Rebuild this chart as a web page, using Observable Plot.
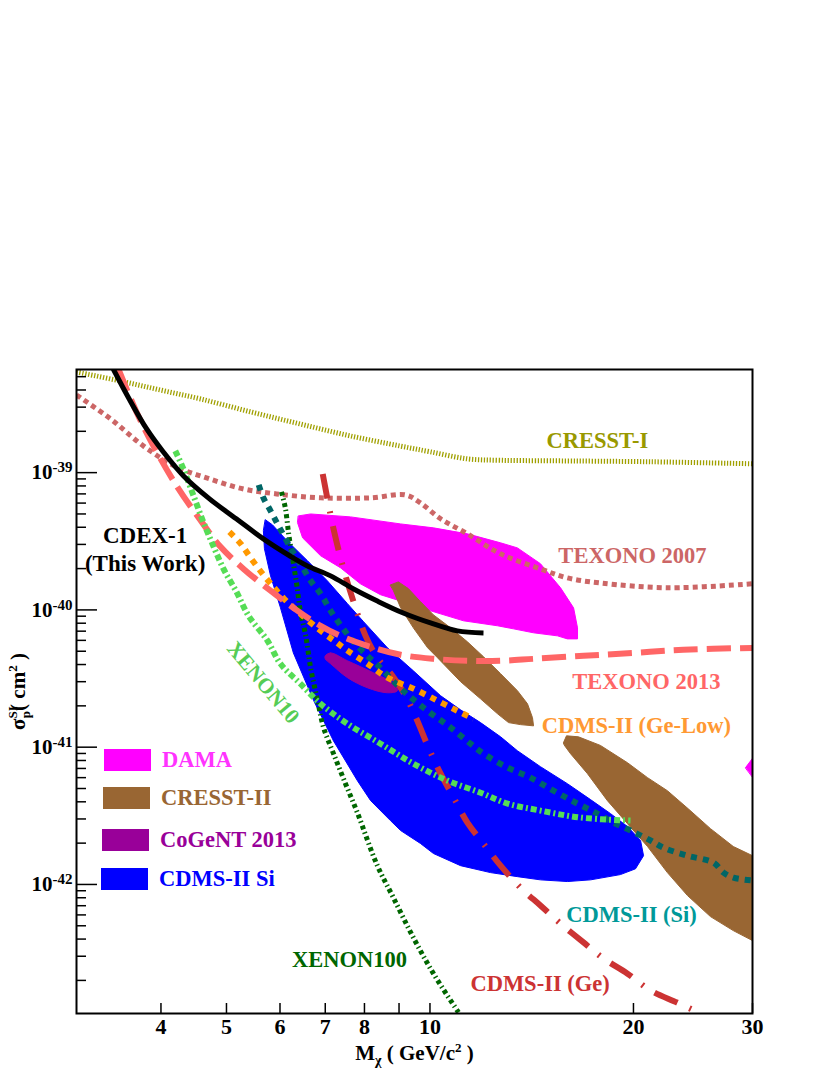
<!DOCTYPE html>
<html><head><meta charset="utf-8">
<script src="https://cdn.jsdelivr.net/npm/d3@7"></script>
<script src="https://cdn.jsdelivr.net/npm/@observablehq/plot@0.6"></script>
<style>
body{margin:0;background:#fff;}
#wrap{position:relative;width:830px;height:1075px;font-family:'Liberation Serif','Times New Roman',serif;font-weight:bold;}
.lg{position:absolute;display:flex;align-items:center;font-size:22.5px;line-height:22px;white-space:nowrap;}
.sw{width:47px;height:22px;margin-right:11px;}
</style></head><body><div id="wrap"></div>
<script>
// ---- data: [mass (GeV/c^2), sigma_SI (cm^2)] ----
const cresst1 = [[3.0,5.41e-39],[3.49,4.64e-39],[3.99,4.00e-39],[4.58,3.44e-39],[5.43,2.77e-39],[6.43,2.26e-39],[7.63,1.85e-39],[9.05,1.56e-39],[10.0,1.42e-39],[11.36,1.26e-39],[12.72,1.23e-39],[15.07,1.22e-39],[21.2,1.20e-39],[30,1.16e-39]];
const texono2007 = [[3.0,3.68e-39],[3.37,2.46e-39],[3.77,1.56e-39],[4.22,1.10e-39],[4.72,9.0e-40],[5.30,7.6e-40],[5.93,7.0e-40],[6.89,6.55e-40],[8.17,6.55e-40],[9.20,6.88e-40],[9.68,6.02e-40],[10.37,4.61e-40],[11.36,3.58e-40],[12.72,2.56e-40],[14.57,1.99e-40],[15.97,1.71e-40],[17.87,1.57e-40],[22.5,1.45e-40],[30,1.55e-40]];
const texono2013 = [[3.46,5.69e-39],[3.68,2.77e-39],[3.90,1.56e-39],[4.22,8.0e-40],[4.56,4.61e-40],[4.90,2.88e-40],[5.30,1.99e-40],[5.81,1.38e-40],[6.28,1.035e-40],[6.89,7.65e-41],[7.37,6.47e-41],[8.08,5.47e-41],[9.05,4.71e-41],[10.12,4.40e-41],[11.36,4.26e-41],[12.72,4.26e-41],[14.23,4.40e-41],[16.87,4.63e-41],[20.0,4.86e-41],[23.7,5.12e-41],[30,5.29e-41]];
const cdex1 = [[3.40,5.69e-39],[3.59,3.44e-39],[3.81,2.08e-39],[4.03,1.42e-39],[4.32,9.46e-40],[4.72,6.44e-40],[5.17,4.61e-40],[5.67,3.29e-40],[6.20,2.48e-40],[6.59,2.09e-40],[7.13,1.77e-40],[7.71,1.42e-40],[8.36,1.16e-40],[9.13,9.5e-41],[10.02,8.04e-41],[10.98,7.03e-41],[12.0,6.80e-41]];
const xenon10 = [[4.20,1.44e-39],[4.32,1.06e-39],[4.47,6.77e-40],[4.62,4.38e-40],[4.78,2.93e-40],[4.95,1.99e-40],[5.17,1.36e-40],[5.39,9.06e-41],[5.75,5.96e-41],[6.01,4.05e-41],[6.43,2.90e-41],[6.89,2.07e-41],[7.55,1.48e-41],[8.45,1.06e-41],[9.45,7.58e-42],[10.62,5.70e-42],[11.88,4.66e-42],[13.03,3.88e-42],[14.57,3.45e-42],[16.70,3.07e-42],[19.8,2.92e-42]];
const xenon100 = [[6.03,7.24e-40],[6.11,5.53e-40],[6.18,3.58e-40],[6.26,2.39e-40],[6.35,1.55e-40],[6.43,9.85e-41],[6.55,6.47e-41],[6.66,3.78e-41],[6.82,2.18e-41],[6.96,1.39e-41],[7.20,8.97e-42],[7.50,5.42e-42],[7.81,3.33e-42],[8.36,1.37e-42],[8.83,8.0e-43],[9.45,4.10e-43],[10.12,2.24e-43],[11.02,1.17e-43]];
const cdmsSiLimit = [[5.58,8.14e-40],[5.67,6.55e-40],[5.81,5.27e-40],[5.95,4.23e-40],[6.22,2.83e-40],[6.43,2.17e-40],[6.66,1.63e-40],[6.89,1.31e-40],[7.13,9.85e-41],[7.37,7.78e-41],[7.71,5.85e-41],[8.08,4.63e-41],[8.36,3.98e-41],[9.13,2.57e-41],[9.92,1.84e-41],[10.73,1.39e-41],[11.48,1.06e-41],[12.0,8.97e-42],[13.03,7.10e-42],[14.08,6.00e-42],[15.23,4.82e-42],[16.53,3.88e-42],[17.69,3.28e-42],[18.68,2.82e-42],[19.8,2.47e-42],[21.2,2.09e-42],[22.16,1.85e-42],[24.04,1.62e-42],[26.27,1.44e-42],[27.18,1.22e-42],[28.12,1.12e-42],[30,1.07e-42]];
const cdmsGeLow = [[5.05,3.70e-40],[5.25,3.03e-40],[5.43,2.39e-40],[5.67,1.80e-40],[5.87,1.47e-40],[6.07,1.22e-40],[6.43,9.37e-41],[6.89,7.05e-41],[7.25,5.86e-41],[7.55,5.05e-41],[8.08,4.06e-41],[8.65,3.21e-41],[9.45,2.67e-41],[10.26,2.18e-41],[10.98,1.84e-41],[11.6,1.61e-41]];
const cdmsGe = [[6.94,9.78e-40],[7.20,3.89e-40],[7.45,1.99e-40],[7.76,1.035e-40],[8.03,6.47e-41],[8.36,4.48e-41],[8.80,3.31e-41],[9.20,2.37e-41],[9.55,1.61e-41],[9.95,9.91e-42],[10.37,6.41e-42],[10.84,4.29e-42],[11.36,2.82e-42],[12.0,1.98e-42],[12.72,1.37e-42],[13.61,9.48e-43],[14.57,7.02e-43],[15.6,5.19e-43],[16.87,3.78e-43],[18.06,2.89e-43],[19.6,2.24e-43],[21.2,1.69e-43],[23.2,1.38e-43],[25.13,1.15e-43]];
// allowed regions (closed contours)
const damaRegion = [[6.39,4.84e-40],[6.66,5.0e-40],[7.63,4.76e-40],[9.05,4.23e-40],[10.12,3.96e-40],[11.36,3.58e-40],[12.72,3.08e-40],[13.47,2.83e-40],[14.57,2.17e-40],[15.6,1.45e-40],[16.31,1.035e-40],[16.53,7.40e-41],[16.53,6.15e-41],[15.97,6.15e-41],[15.44,6.47e-41],[14.23,6.81e-41],[13.29,7.28e-41],[12.59,7.66e-41],[11.21,8.33e-41],[10.02,9.85e-41],[9.05,1.16e-40],[8.45,1.29e-40],[7.89,1.55e-40],[7.37,2.03e-40],[6.89,2.48e-40],[6.48,3.35e-40],[6.37,4.31e-40]];
const damaRegion2 = [[29.3,7.10e-42],[31,1.03e-41],[31,4.9e-42]];
const cresst2RegionA = [[8.74,1.52e-40],[8.98,1.60e-40],[9.29,1.43e-40],[9.68,1.15e-40],[10.12,9.2e-41],[10.73,7.40e-41],[11.36,5.86e-41],[12.0,4.56e-41],[12.72,3.43e-41],[13.47,2.58e-41],[13.94,2.07e-41],[14.18,1.64e-41],[14.23,1.43e-41],[13.61,1.46e-41],[13.07,1.51e-41],[12.59,1.75e-41],[11.88,2.25e-41],[11.10,3.0e-41],[10.26,4.48e-41],[9.92,5.3e-41],[9.45,7.40e-41],[9.05,1.035e-40],[8.83,1.38e-40]];
const cresst2RegionB = [[15.76,1.08e-41],[15.92,1.21e-41],[16.58,1.19e-41],[17.87,1.03e-41],[19.6,7.7e-42],[20.98,6.0e-42],[22.45,4.82e-42],[24.1,3.56e-42],[26.0,2.55e-42],[28.1,1.89e-42],[30,1.62e-42],[30,3.90e-43],[28.1,4.61e-43],[26.0,5.83e-43],[24.04,8.3e-43],[22.45,1.22e-42],[20.98,1.89e-42],[19.6,2.77e-42],[18.3,4.08e-42],[17.1,6.41e-42],[16.14,8.97e-42],[15.81,1.03e-41]];
const cdmsSiRegion = [[5.71,4.53e-40],[5.85,4.16e-40],[6.15,3.18e-40],[6.59,2.28e-40],[7.05,1.63e-40],[7.55,1.11e-40],[7.98,8.18e-41],[8.65,5.30e-41],[9.45,3.60e-41],[10.37,2.37e-41],[11.10,1.87e-41],[11.88,1.51e-41],[12.72,1.19e-41],[13.47,9.42e-42],[14.57,7.21e-42],[15.97,5.42e-42],[17.28,4.15e-42],[18.5,3.28e-42],[19.6,2.64e-42],[20.49,2.09e-42],[20.7,1.62e-42],[20.14,1.30e-42],[19.13,1.18e-42],[17.28,1.08e-42],[15.97,1.05e-42],[14.57,1.08e-42],[13.47,1.14e-42],[12.29,1.22e-42],[11.10,1.37e-42],[10.12,1.68e-42],[9.68,1.99e-42],[9.05,2.47e-42],[8.74,2.92e-42],[8.17,4.08e-42],[7.81,5.70e-42],[7.20,1.11e-41],[6.73,2.18e-41],[6.28,4.86e-41],[6.01,1.035e-40],[5.81,1.77e-40],[5.69,2.79e-40],[5.67,3.76e-40]];
const cogentRegion = [[7.00,4.63e-41],[7.13,4.86e-41],[7.55,4.26e-41],[8.25,3.48e-41],[8.83,2.90e-41],[8.95,2.58e-41],[8.65,2.49e-41],[8.08,2.71e-41],[7.55,3.21e-41],[7.13,4.05e-41],[7.0,4.40e-41]];
// axis ticks
const xTicks = [4,5,6,7,8,9,10,20,30];
const yMajor = [1e-39,1e-40,1e-41,1e-42];
const yDecades = [-43,-42,-41,-40,-39];
const yMinorMult = [2,3,4,5,6,7,8,9];
// curve labels (anchor in data units)
const labelText = ["CRESST-I","TEXONO 2007","TEXONO 2013","CDMS-II (Ge-Low)","CDMS-II (Si)","CDMS-II (Ge)","XENON100","XENON10","CDEX-1\n(This Work)"];
const labelMass = [17.69,19.93,20.9,20.2,19.87,14.55,7.60,5.69,3.79];
const labelSigma = [1.76e-39,2.56e-40,3.05e-41,1.48e-41,6.14e-43,1.93e-43,2.89e-43,3.0e-41,2.83e-40];
// legend
const legendNames = ["DAMA","CRESST-II","CoGeNT 2013","CDMS-II Si"];

// ---- styles ----
const labelColor = ["#999900","#cc6666","#ff6666","#ff9933","#009999","#cc3333","#006600","#55cc55","#000000"];
const labelRotate = [0,0,0,0,0,0,0,50,0];
const legendFill = ["#ff00ff","#996633","#990099","#0000ff"];
const legendText = ["#ff33ff","#996633","#990099","#0000ff"];
const legendPos = [[104,749],[103,787],[102,829],[101,868]];

const yDomain = [1.148e-43, 5.64e-39];
const yMinor = yDecades.flatMap(e => yMinorMult.map(m => m * Math.pow(10, e))).filter(v => v > yDomain[0] && v < yDomain[1]);

const X = d => d[0], Y = d => d[1];
const region = (data, color, curve = "linear-closed") =>
  Plot.line(data, {x: X, y: Y, fill: color, stroke: color, strokeWidth: 1, curve, clip: true});
const limit = (data, color, width, dash) =>
  Plot.line(data, {x: X, y: Y, stroke: color, strokeWidth: width, strokeDasharray: dash, strokeLinecap: "butt", curve: "catmull-rom", clip: true});

const FW = 830 - 76 - 78, FH = 1075 - 369 - 62;

const labelMarks = labelText.map((t, i) => Plot.text([i], {
  x: () => labelMass[i], y: () => labelSigma[i], text: () => t,
  fill: labelColor[i], rotate: labelRotate[i], fontSize: i === 8 ? 23 : (i === 7 ? 21.5 : 22.5),
  lineHeight: 1.22, textAnchor: "middle"
}));

const chart = Plot.plot({
  width: 830, height: 1075,
  marginTop: 369, marginBottom: 62, marginLeft: 76, marginRight: 78,
  style: {fontFamily: "'Liberation Serif','Times New Roman',serif", fontWeight: "bold", fontSize: "22px", background: "white"},
  x: {type: "log", domain: [3, 30], axis: null},
  y: {type: "log", domain: yDomain, axis: null},
  marks: [
    region(damaRegion, "#ff00ff"),
    region(damaRegion2, "#ff00ff"),
    region(cresst2RegionA, "#996633"),
    region(cresst2RegionB, "#996633"),
    region(cdmsSiRegion, "#0000ff"),
    region(cogentRegion, "#990099", "catmull-rom-closed"),
    limit(cresst1, "#a0a000", 5, "1.3,1.7"),
    limit(texono2007, "#cc6666", 5, "5,4"),
    limit(xenon100, "#006600", 5, "4,3,1.5,3"),
    limit(cdmsGe, "#cc3333", 6, "25,13,2,13"),
    limit(cdmsSiLimit, "#006666", 6, "6,6"),
    limit(cdmsGeLow, "#ff9900", 6, "6,6"),
    limit(texono2013, "#ff6666", 6, "24,9"),
    limit(xenon10, "#55dd55", 6, "6,3,2,3"),
    limit(cdex1, "#000000", 5, null),
    Plot.frame({stroke: "black", strokeWidth: 2}),
    Plot.tickX(xTicks, {x: d => d, insetTop: FH - 10, stroke: "black", strokeWidth: 1.5}),
    Plot.tickY(yMajor, {y: d => d, insetRight: FW - 21, stroke: "black", strokeWidth: 1.5}),
    Plot.tickY(yMinor, {y: d => d, insetRight: FW - 10, stroke: "black", strokeWidth: 1.5}),
    Plot.axisX(xTicks, {tickSize: 0, tickPadding: 5, tickFormat: d => String(d), fontSize: 22}),
    Plot.axisY(yMajor, {tickSize: 0, tickPadding: 4, tickFormat: d => "10^" + Math.round(Math.log10(d)), fontSize: 21}),
    Plot.text([0], {frameAnchor: "bottom", dy: 40, lineAnchor: "middle", textAnchor: "middle", text: () => "XTITLE", fontSize: 21}),
    Plot.text([0], {frameAnchor: "left", dx: -58, dy: 0, rotate: -90, lineAnchor: "middle", textAnchor: "middle", text: () => "YTITLE", fontSize: 21}),
    ...labelMarks
  ]
});

// rich text (superscripts / subscripts)
function rich(el, parts) {
  const s = d3.select(el); s.text(null);
  for (const p of parts) {
    const ts = s.append("tspan").text(p.t);
    if (p.size) ts.attr("font-size", p.size);
    if (p.dx) ts.attr("dx", p.dx);
    if (p.dy) ts.attr("dy", p.dy);
  }
}
d3.select(chart).selectAll("text").each(function () {
  const t = this.textContent;
  const m = /^10\^(-?\d+)$/.exec(t);
  if (m) rich(this, [{t: "10"}, {t: m[1], size: 15, dy: -7}]);
  else if (t === "XTITLE") rich(this, [{t: "M"}, {t: "χ", size: 14, dy: 5}, {t: " ( GeV/c", dy: -5}, {t: "2", size: 13, dy: -8}, {t: " )", dy: 8}]);
  else if (t === "YTITLE") rich(this, [{t: "σ"}, {t: "SI", size: 13, dy: -8}, {t: "p", size: 13, dx: -12, dy: 13}, {t: "( cm", dy: -5}, {t: "2", size: 13, dy: -8}, {t: " )", dy: 8}]);
});

const wrap = document.getElementById("wrap");
wrap.appendChild(chart);
legendNames.forEach((name, i) => {
  const div = document.createElement("div");
  div.className = "lg";
  div.style.left = legendPos[i][0] + "px";
  div.style.top = legendPos[i][1] + "px";
  div.innerHTML = `<div class="sw" style="background:${legendFill[i]}"></div><span style="color:${legendText[i]}">${name}</span>`;
  wrap.appendChild(div);
});
</script></body></html>
